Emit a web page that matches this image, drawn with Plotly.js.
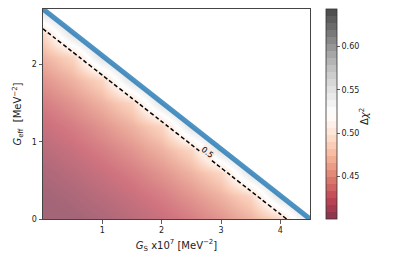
<!DOCTYPE html>
<html><head><meta charset="utf-8">
<script src="https://cdn.plot.ly/plotly-3.0.1.min.js"></script>
<style>html,body{margin:0;padding:0;background:#fff;}#chart{width:399px;height:266px;}</style>
</head><body><div id="chart"></div>
<script>
// ---- data ----
const GS = [0, 0.5, 1.0, 1.5, 2.0, 2.5, 3.0, 3.5, 4.0, 4.5];          // G_S x1e7 [MeV^-2]
const Geff = [0, 0.3, 0.6, 0.9, 1.2, 1.5, 1.8, 2.1, 2.4, 2.7];        // G_eff [MeV^-2]
const dchi2 = [
  [0.396,0.401,0.406,0.413,0.421,0.431,0.444,0.461,0.484,0.560],
  [0.401,0.406,0.413,0.421,0.431,0.444,0.461,0.484,0.560,0.590],
  [0.406,0.413,0.421,0.431,0.444,0.461,0.484,0.560,0.590,0.600],
  [0.413,0.421,0.431,0.444,0.461,0.484,0.560,0.590,0.600,0.610],
  [0.421,0.431,0.444,0.461,0.484,0.560,0.590,0.600,0.610,0.615],
  [0.431,0.444,0.461,0.484,0.560,0.590,0.600,0.610,0.615,0.620],
  [0.444,0.461,0.484,0.560,0.590,0.600,0.610,0.615,0.620,0.620],
  [0.461,0.484,0.560,0.590,0.600,0.610,0.615,0.620,0.620,0.620],
  [0.484,0.560,0.590,0.600,0.610,0.615,0.620,0.620,0.620,0.620],
  [0.560,0.590,0.600,0.610,0.615,0.620,0.620,0.620,0.620,0.620]
];
const boundaryGS = [0, 4.5];
const boundaryGeff = [2.72, 0];
const contourLevel = 0.5;
const contourLabel = {text:'0.5', gs:2.77, geff:0.865};
const xTicks = [1, 2, 3, 4];
const yTicks = [0, 1, 2];
const cbTicks = [0.45, 0.50, 0.55, 0.60];
const cbTickText = ['0.45', '0.50', '0.55', '0.60'];
const zMin = 0.401, zMax = 0.6435;

// ---- styling ----
const FONT = 'DejaVu Sans, Liberation Sans, sans-serif';
const RDGY = [[103,0,31],[178,24,43],[214,96,77],[244,165,130],[253,219,199],[255,255,255],[224,224,224],[186,186,186],[135,135,135],[77,77,77],[26,26,26]];
function rdgyAt(t){ const p=t*10; const i=Math.min(9,Math.floor(p)); const f=p-i; return RDGY[i].map((c,k)=>Math.round(c+(RDGY[i+1][k]-c)*f)); }
const smoothScale = RDGY.map((c,i)=>[i/10, 'rgb('+c.join(',')+')']);
const nb = 30; const bandScale = [];
for (let b=0;b<nb;b++){ const c=rdgyAt((b+0.5)/nb); const s='rgba('+c.join(',')+',0.8)'; bandScale.push([b/nb,s]); bandScale.push([(b+1)/nb,s]); }
// background colour under the contour label (level colour at opacity 0.6 over white)
const lc = rdgyAt((contourLevel-zMin)/(zMax-zMin)).map(c=>Math.round(255-0.6*(255-c)));
const labelBg = 'rgb('+lc.join(',')+')';

const traces = [
  {type:'heatmap', x:GS, y:Geff, z:dchi2, zsmooth:'best', colorscale:smoothScale,
   zmin:zMin, zmax:zMax, opacity:0.6, showscale:false, hoverinfo:'skip'},
  {type:'contour', x:GS, y:Geff, z:dchi2, showscale:false, hoverinfo:'skip',
   contours:{coloring:'none', start:contourLevel, end:contourLevel, size:0.1, showlabels:false},
   line:{color:'#000', width:1.5, dash:'4px,2.5px', smoothing:0}},
  {type:'scatter', mode:'lines', hoverinfo:'skip', showlegend:false,
   x:[boundaryGS[0], boundaryGS[1], boundaryGS[1], boundaryGS[0]],
   y:[boundaryGeff[0], boundaryGeff[1], boundaryGeff[0], boundaryGeff[0]],
   fill:'toself', fillcolor:'#ffffff', line:{width:0}},
  {type:'scatter', mode:'lines', hoverinfo:'skip', showlegend:false,
   x:boundaryGS, y:boundaryGeff, line:{color:'rgba(31,119,180,0.8)', width:5}},
  {type:'scatter', mode:'markers', x:[null], y:[null], hoverinfo:'skip', showlegend:false,
   marker:{color:[zMin], cmin:zMin, cmax:zMax, colorscale:bandScale, showscale:true,
     colorbar:{x:1.06, xanchor:'left', xpad:0, ypad:0, y:0.5, yanchor:'middle', len:1, lenmode:'fraction',
       thickness:11, outlinewidth:0.8, outlinecolor:'#333', ticks:'outside', ticklen:3, tickwidth:0.8, tickcolor:'#333',
       tickvals:cbTicks, ticktext:cbTickText, tickfont:{family:FONT, size:8, color:'#222'},
       title:{text:''}}}}
];

const axisBase = {showgrid:false, zeroline:false, ticks:'outside', ticklen:3.5, tickwidth:0.8, tickcolor:'#333',
  showline:true, linecolor:'#444', linewidth:1, mirror:true, tickfont:{family:FONT, size:8, color:'#222'}};

const layout = {
  width:399, height:266, margin:{l:43, r:89, t:9, b:47},
  paper_bgcolor:'#fff', plot_bgcolor:'#fff', showlegend:false,
  xaxis:Object.assign({}, axisBase, {range:[boundaryGS[0], boundaryGS[1]], tickvals:xTicks,
    title:{text:'<i>G</i><sub>S</sub> x10<sup>7</sup> [MeV<sup>−2</sup>]', standoff:7, font:{family:FONT, size:10, color:'#222'}}}),
  yaxis:Object.assign({}, axisBase, {range:[boundaryGeff[1], boundaryGeff[0]], tickvals:yTicks,
    title:{text:'<i>G</i><sub>eff</sub>\u00a0\u00a0[MeV<sup>−2</sup>]', standoff:8, font:{family:FONT, size:10, color:'#222'}}}),
  annotations:[
    {x:contourLabel.gs, y:contourLabel.geff, xref:'x', yref:'y', text:contourLabel.text, showarrow:false,
     textangle:37.7, font:{family:FONT, size:8, color:'#000'}, bgcolor:labelBg, borderpad:0},
    {x:1.232, y:0.49, xref:'paper', yref:'paper', text:'Δ<i>χ</i><sup>2</sup>', showarrow:false,
     textangle:-90, font:{family:FONT, size:10, color:'#222'}}
  ]
};

Plotly.newPlot('chart', traces, layout, {staticPlot:true, displayModeBar:false});
</script></body></html>
